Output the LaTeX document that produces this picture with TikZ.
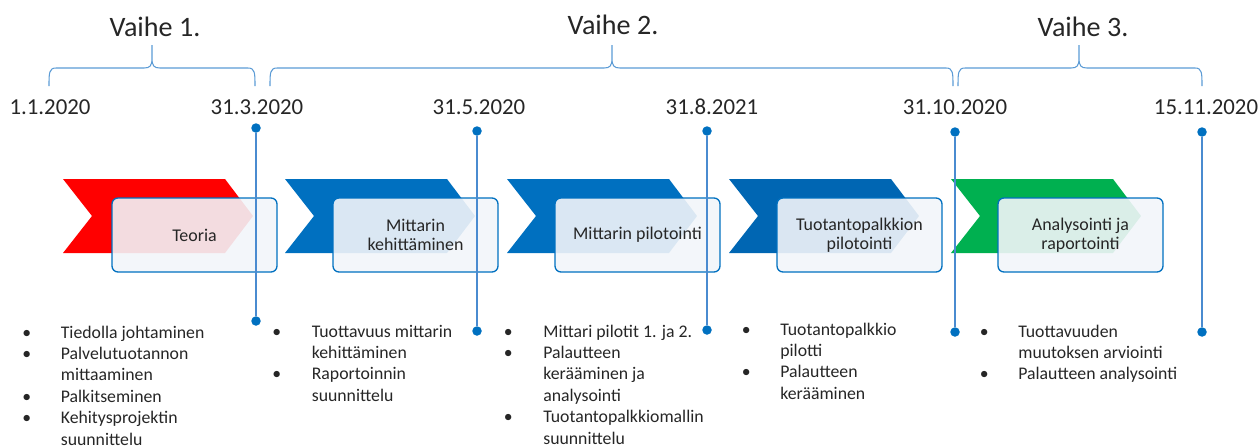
\documentclass[tikz,border=0pt]{standalone}
\usepackage{fontspec}
\setmainfont{Carlito}
\usetikzlibrary{positioning}

\definecolor{teksti}{HTML}{262626}
\definecolor{nuolipuna}{HTML}{FF0000}
\definecolor{nuolisini}{HTML}{0070C0}
\definecolor{nuolitumma}{HTML}{0066B3}
\definecolor{nuolivihr}{HTML}{00B050}
\definecolor{laatikko}{HTML}{F2F5F9}
\definecolor{reuna}{HTML}{0070C0}
\definecolor{viiva}{HTML}{4A8BD0}
\definecolor{kaari}{HTML}{5B9BD5}

\tikzset{
  vaihe/.style={draw=reuna, line width=0.75pt, fill=laatikko, fill opacity=0.9, text opacity=1,
    rounded corners=3.4pt, minimum width=3.3cm, minimum height=1.48cm, align=center,
    text=teksti, font=\fontsize{10.2}{11}\selectfont},
  pvm/.style={text=teksti, font=\fontsize{13}{15}\selectfont, inner sep=0pt},
  otsikko/.style={text=teksti, font=\fontsize{16}{18}\selectfont, inner sep=0pt},
  piste/.style={circle, fill=nuolisini, minimum size=0.19cm, inner sep=0pt},
  aikajana/.style={draw=viiva, line width=0.6pt},
  kaaret/.style={draw=kaari, line width=0.6pt},
  lista/.style={anchor=base west, inner sep=0pt, text=teksti, font=\fontsize{10.1}{12.2}\selectfont}
}

% aaltosulje: vasen, karki, oikea
\newcommand{\vaihekaari}[3]{%
  \draw[kaaret] (#1,86) .. controls (#1,73) and (#1,68) .. ({#1+7},68) -- ({#2-8},68)
     .. controls ({#2-2},68) and (#2,66) .. (#2,58) -- (#2,45)
     (#2,58) .. controls (#2,66) and ({#2+2},68) .. ({#2+8},68) -- ({#3-7},68)
     .. controls (#3,68) and (#3,73) .. (#3,86);}
\newcommand{\lk}{\textbullet &}

\begin{document}
\begin{tikzpicture}[x=0.02cm,y=-0.02cm]
\useasboundingbox (0,0) rectangle (1260,447);

% nuolet
\foreach \cx/\col in {63/nuolipuna,285/nuolisini,507/nuolisini,729/nuolitumma,951/nuolivihr}
  \fill[\col] (\cx,179) -- ({\cx+162},179) -- ({\cx+190},216) -- ({\cx+162},253) -- (\cx,253) -- ({\cx+29},216) -- cycle;

% vaiheiden laatikot
\node[vaihe] (v1) at (194.5,235) {Teoria};
\node[vaihe] (v2) at (415.5,235) {Mittarin\\kehittäminen};
\node[vaihe] (v3) at (637.5,235) {Mittarin pilotointi};
\node[vaihe] (v4) at (859.5,235) {Tuotantopalkkion\\pilotointi};
\node[vaihe] (v5) at (1080.5,235) {Analysointi ja\\raportointi};

% aikajanan pystyviivat
\foreach \n/\x/\ya/\yb in {1/256/128/321, 2/477/131/331, 3/707/131/330, 4/955/132/332, 5/1202/132/332} {
  \node[piste] (a\n) at (\x,\ya) {};
  \node[piste] (b\n) at (\x,\yb) {};
  \draw[aikajana] (a\n) -- (b\n);
}

% paivamaarat
\node[pvm] (t0) at (50,107) {1.1.2020};
\node[pvm] (t1) at (257,107) {31.3.2020};
\node[pvm] (t2) at (479,107) {31.5.2020};
\node[pvm] (t3) at (712,107) {31.8.2021};
\node[pvm] (t4) at (955,107) {31.10.2020};
\node[pvm] (t5) at (1206,107) {15.11.2020};

% vaiheet ylhaalla
\vaihekaari{49}{152}{255}
\vaihekaari{270}{612}{953}
\vaihekaari{958}{1079}{1202}
\node[otsikko] (o1) at (155,27) {Vaihe 1.};
\node[otsikko] (o2) at (613,25) {Vaihe 2.};
\node[otsikko] (o3) at (1083,27) {Vaihe 3.};

% listat
\node[lista] (l1) at (22,338) {\begin{tabular}[t]{@{}p{0.77cm}@{}l@{}}
  \lk Tiedolla johtaminen\\ \lk Palvelutuotannon\\ & mittaaminen\\ \lk Palkitseminen\\
  \lk Kehitysprojektin\\ & suunnittelu\end{tabular}};
\node[lista] (l2) at (272,337) {\begin{tabular}[t]{@{}p{0.79cm}@{}l@{}}
  \lk Tuottavuus mittarin\\ & kehittäminen\\ \lk Raportoinnin\\ & suunnittelu\end{tabular}};
\node[lista] (l3) at (503.5,337) {\begin{tabular}[t]{@{}p{0.79cm}@{}l@{}}
  \lk Mittari pilotit 1. ja 2.\\ \lk Palautteen\\ & kerääminen ja\\ & analysointi\\
  \lk Tuotantopalkkiomallin\\ & suunnittelu\end{tabular}};
\node[lista] (l4) at (741.5,335) {\begin{tabular}[t]{@{}p{0.77cm}@{}l@{}}
  \lk Tuotantopalkkio\\ & pilotti\\ \lk Palautteen\\ & kerääminen\end{tabular}};
\node[lista] (l5) at (979.5,337) {\begin{tabular}[t]{@{}p{0.77cm}@{}l@{}}
  \lk Tuottavuuden\\ & muutoksen arviointi\\ \lk Palautteen analysointi\end{tabular}};
\end{tikzpicture}
\end{document}
